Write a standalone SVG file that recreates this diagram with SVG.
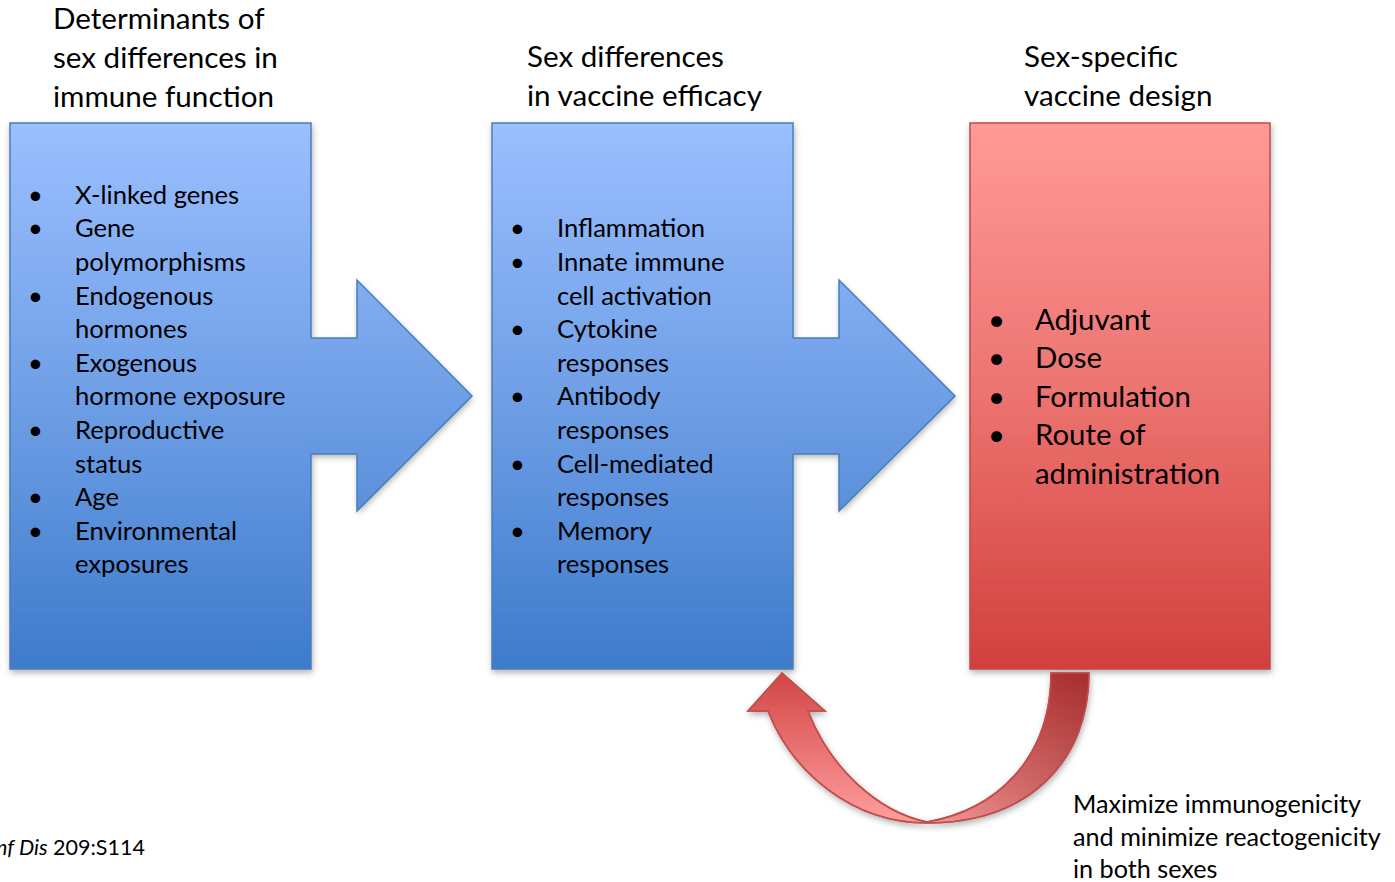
<svg xmlns="http://www.w3.org/2000/svg" width="1395" height="882" viewBox="0 0 1395 882">
<defs>
<linearGradient id="gBlue" gradientUnits="userSpaceOnUse" x1="0" y1="123" x2="0" y2="669">
<stop offset="0" stop-color="#9bbfff"/>
<stop offset="0.5" stop-color="#6f9fe6"/>
<stop offset="1" stop-color="#3d7bcb"/>
</linearGradient>
<linearGradient id="gRed" gradientUnits="userSpaceOnUse" x1="0" y1="123" x2="0" y2="669">
<stop offset="0" stop-color="#ff9a97"/>
<stop offset="0.5" stop-color="#ec7370"/>
<stop offset="1" stop-color="#d2403d"/>
</linearGradient>
<linearGradient id="gCurve" gradientUnits="userSpaceOnUse" x1="0" y1="673" x2="0" y2="823">
<stop offset="0" stop-color="#d24645"/>
<stop offset="1" stop-color="#ff9e9e"/>
</linearGradient>
<linearGradient id="gCurveDark" gradientUnits="userSpaceOnUse" x1="900" y1="0" x2="1089" y2="0">
<stop offset="0" stop-color="#5a0000" stop-opacity="0"/>
<stop offset="1" stop-color="#5a0000" stop-opacity="0.35"/>
</linearGradient>
<filter id="sh" x="-10%" y="-10%" width="125%" height="125%">
<feDropShadow dx="1" dy="3" stdDeviation="3" flood-color="#000" flood-opacity="0.3"/>
</filter>
<style>
text{font-family:Lato,"Liberation Sans",sans-serif;fill:#000;}
.t{font-size:29.6px;}
.b{font-size:25.6px;}
.r{font-size:29.4px;}
.n{font-size:25.2px;}
.c{font-size:21.5px;}
.bs{stroke:#4a7ebb;stroke-width:1.5;}
.rs{stroke:#be4b48;stroke-width:1.5;}
</style>
</defs>

<g id="connector-shadows">
<polygon points="311,338 357,338 357,280 472,396 357,511 357,454 311,454" fill="#6f9fe6" filter="url(#sh)"/>
<polygon points="793,338 839,338 839,280 955,396 839,511 839,454 793,454" fill="#6f9fe6" filter="url(#sh)"/>
</g>

<g id="node-determinants">
<rect x="10" y="123" width="301" height="546" fill="url(#gBlue)" class="bs" filter="url(#sh)"/>
<text class="t" x="53" y="29">Determinants of</text>
<text class="t" x="53" y="68">sex differences in</text>
<text class="t" x="53" y="107">immune function</text>
<g class="b">
<text x="28" y="204">•</text><text x="75" y="204">X-linked genes</text>
<text x="28" y="237">•</text><text x="75" y="237">Gene</text>
<text x="75" y="271">polymorphisms</text>
<text x="28" y="305">•</text><text x="75" y="305">Endogenous</text>
<text x="75" y="338">hormones</text>
<text x="28" y="372">•</text><text x="75" y="372">Exogenous</text>
<text x="75" y="405">hormone exposure</text>
<text x="28" y="439">•</text><text x="75" y="439">Reproductive</text>
<text x="75" y="473">status</text>
<text x="28" y="506">•</text><text x="75" y="506">Age</text>
<text x="28" y="540">•</text><text x="75" y="540">Environmental</text>
<text x="75" y="573">exposures</text>
</g>
</g>

<g id="node-efficacy">
<rect x="492" y="123" width="301" height="546" fill="url(#gBlue)" class="bs" filter="url(#sh)"/>
<text class="t" x="527" y="67">Sex differences</text>
<text class="t" x="527" y="106">in vaccine efficacy</text>
<g class="b">
<text x="510" y="237">•</text><text x="557" y="237">Inflammation</text>
<text x="510" y="271">•</text><text x="557" y="271">Innate immune</text>
<text x="557" y="305">cell activation</text>
<text x="510" y="338">•</text><text x="557" y="338">Cytokine</text>
<text x="557" y="372">responses</text>
<text x="510" y="405">•</text><text x="557" y="405">Antibody</text>
<text x="557" y="439">responses</text>
<text x="510" y="473">•</text><text x="557" y="473">Cell-mediated</text>
<text x="557" y="506">responses</text>
<text x="510" y="540">•</text><text x="557" y="540">Memory</text>
<text x="557" y="573">responses</text>
</g>
</g>

<g id="node-design">
<rect x="970" y="123" width="300" height="546" fill="url(#gRed)" class="rs" filter="url(#sh)"/>
<text class="t" x="1024" y="67">Sex-specific</text>
<text class="t" x="1024" y="106">vaccine design</text>
<g class="r">
<text x="988" y="330">•</text><text x="1035" y="330">Adjuvant</text>
<text x="988" y="368">•</text><text x="1035" y="368">Dose</text>
<text x="988" y="407">•</text><text x="1035" y="407">Formulation</text>
<text x="988" y="445">•</text><text x="1035" y="445">Route of</text>
<text x="1035" y="484">administration</text>
</g>
</g>

<g id="connectors">
<g id="arrow-1">
<polygon points="300,338 357,338 357,280 472,396 357,511 357,454 300,454" fill="url(#gBlue)"/>
<polyline points="311,338 357,338 357,280 472,396 357,511 357,454 311,454" fill="none" class="bs"/>
</g>
<g id="arrow-2">
<polygon points="782,338 839,338 839,280 955,396 839,511 839,454 782,454" fill="url(#gBlue)"/>
<polyline points="793,338 839,338 839,280 955,396 839,511 839,454 793,454" fill="none" class="bs"/>
</g>
<g id="arrow-feedback">
<path id="curve" d="M1089,673 C1089,760 1030,823 927,823 C852,823 792,772 768,711 L748,711 L782,673 L825,711 L808,711 C830,768 878,812 927,822 C995,810 1051,760 1051,673 Z" fill="url(#gCurve)" stroke="#c0504d" stroke-width="1.5" filter="url(#sh)"/>
<path d="M1089,673 C1089,760 1030,823 927,823 C852,823 792,772 768,711 L748,711 L782,673 L825,711 L808,711 C830,768 878,812 927,822 C995,810 1051,760 1051,673 Z" fill="url(#gCurveDark)" stroke="#c0504d" stroke-width="1.5"/>
</g>
</g>

<g id="label-feedback">
<text class="n" x="1073" y="813">Maximize immunogenicity</text>
<text class="n" x="1073" y="846">and minimize reactogenicity</text>
<text class="n" x="1073" y="878">in both sexes</text>
</g>

<g id="citation">
<text class="c" x="-4" y="855"><tspan font-style="italic">nf Dis</tspan> 209:S114</text>
</g>
</svg>
